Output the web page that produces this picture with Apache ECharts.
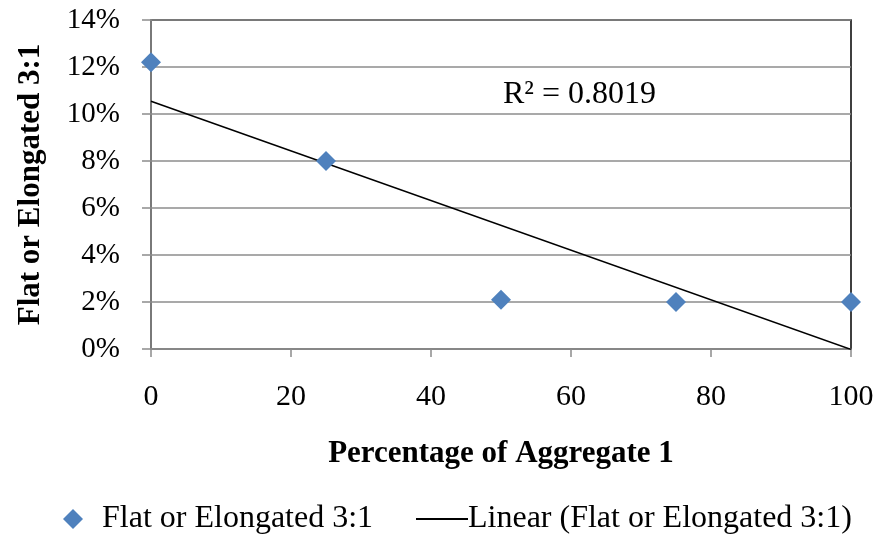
<!DOCTYPE html>
<html><head><meta charset="utf-8">
<script src="https://cdn.jsdelivr.net/npm/echarts@6/dist/echarts.min.js"></script>
<style>html,body{margin:0;padding:0;background:#fff}#c{width:881px;height:539px}</style>
</head><body><div id="c"></div>
<script>
var xValues = [0, 25, 50, 75, 100];
var yValues = [0.122, 0.080, 0.021, 0.020, 0.020];
var seriesName = 'Flat or Elongated 3:1';
var trendName = 'Linear (Flat or Elongated 3:1)';
var xAxisTitle = 'Percentage of Aggregate 1';
var yAxisTitle = 'Flat or Elongated 3:1';
var r2Label = 'R² = 0.8019';

// linear regression from the data
var n = xValues.length, mx = 0, my = 0;
for (var i = 0; i < n; i++) { mx += xValues[i]; my += yValues[i]; }
mx /= n; my /= n;
var sxy = 0, sxx = 0;
for (var i = 0; i < n; i++) { sxy += (xValues[i]-mx)*(yValues[i]-my); sxx += (xValues[i]-mx)*(xValues[i]-mx); }
var slope = sxy / sxx, intercept = my - slope * mx;
var xMin = Math.min.apply(null, xValues), xMax = Math.max.apply(null, xValues);
var trend = [[xMin, intercept + slope*xMin], [xMax, intercept + slope*xMax]];

var FONT = 'Liberation Serif';
var chart = echarts.init(document.getElementById('c'));
chart.setOption({
  animation: false,
  textStyle: { fontFamily: FONT },
  grid: { left: 151, right: 30, top: 20, bottom: 190, show: true, borderColor: '#000', borderWidth: 1.5 },
  xAxis: {
    type: 'value', min: 0, max: 100, interval: 20,
    name: xAxisTitle, nameLocation: 'middle', nameGap: 89,
    nameTextStyle: { fontFamily: FONT, fontSize: 31, fontWeight: 'bold', color: '#000' },
    axisLine: { show: true, lineStyle: { color: '#8c8c8c', width: 1.5 } },
    axisTick: { show: true, length: 8, lineStyle: { color: '#8c8c8c', width: 1.5 } },
    axisLabel: { fontFamily: FONT, fontSize: 30, color: '#000', margin: 33 },
    splitLine: { show: false }
  },
  yAxis: {
    type: 'value', min: 0, max: 0.14, interval: 0.02,
    name: yAxisTitle, nameLocation: 'middle', nameGap: 105, nameRotate: 90,
    nameTextStyle: { fontFamily: FONT, fontSize: 31, fontWeight: 'bold', color: '#000' },
    axisLine: { show: true, lineStyle: { color: '#8c8c8c', width: 1.5 } },
    axisTick: { show: true, length: 9, lineStyle: { color: '#8c8c8c', width: 1.5 } },
    axisLabel: { fontFamily: FONT, fontSize: 29, color: '#000', margin: 31,
      formatter: function (v) { return Math.round(v*100) + '%'; } },
    splitLine: { show: true, lineStyle: { color: '#8c8c8c', width: 1.5 } }
  },
  legend: [
    { data: [{ name: seriesName, icon: 'diamond' }], left: 58, top: 498, itemWidth: 20, itemHeight: 20,
      textStyle: { fontFamily: FONT, fontSize: 32, color: '#000', padding: [0,0,0,14] } },
    { data: [{ name: trendName, icon: 'path://M0,0H52V2H0Z' }], left: 411, top: 498, itemWidth: 52, itemHeight: 2,
      textStyle: { fontFamily: FONT, fontSize: 32, color: '#000', padding: [0,0,0,-5] } }
  ],
  graphic: [
    { type: 'text', left: 503, top: 79, style: { text: r2Label, font: '32px "Liberation Serif"', fill: '#000' } }
  ],
  series: [
    { name: trendName, type: 'line', data: trend, symbol: 'none', lineStyle: { color: '#000', width: 1.5 },
      itemStyle: { color: '#000' }, z: 3 },
    { name: seriesName, type: 'scatter', data: xValues.map(function (x, i) { return [x, yValues[i]]; }),
      symbol: 'diamond', symbolSize: 20, itemStyle: { color: '#4F81BD', opacity: 1 }, z: 4 }
  ]
});
</script></body></html>
